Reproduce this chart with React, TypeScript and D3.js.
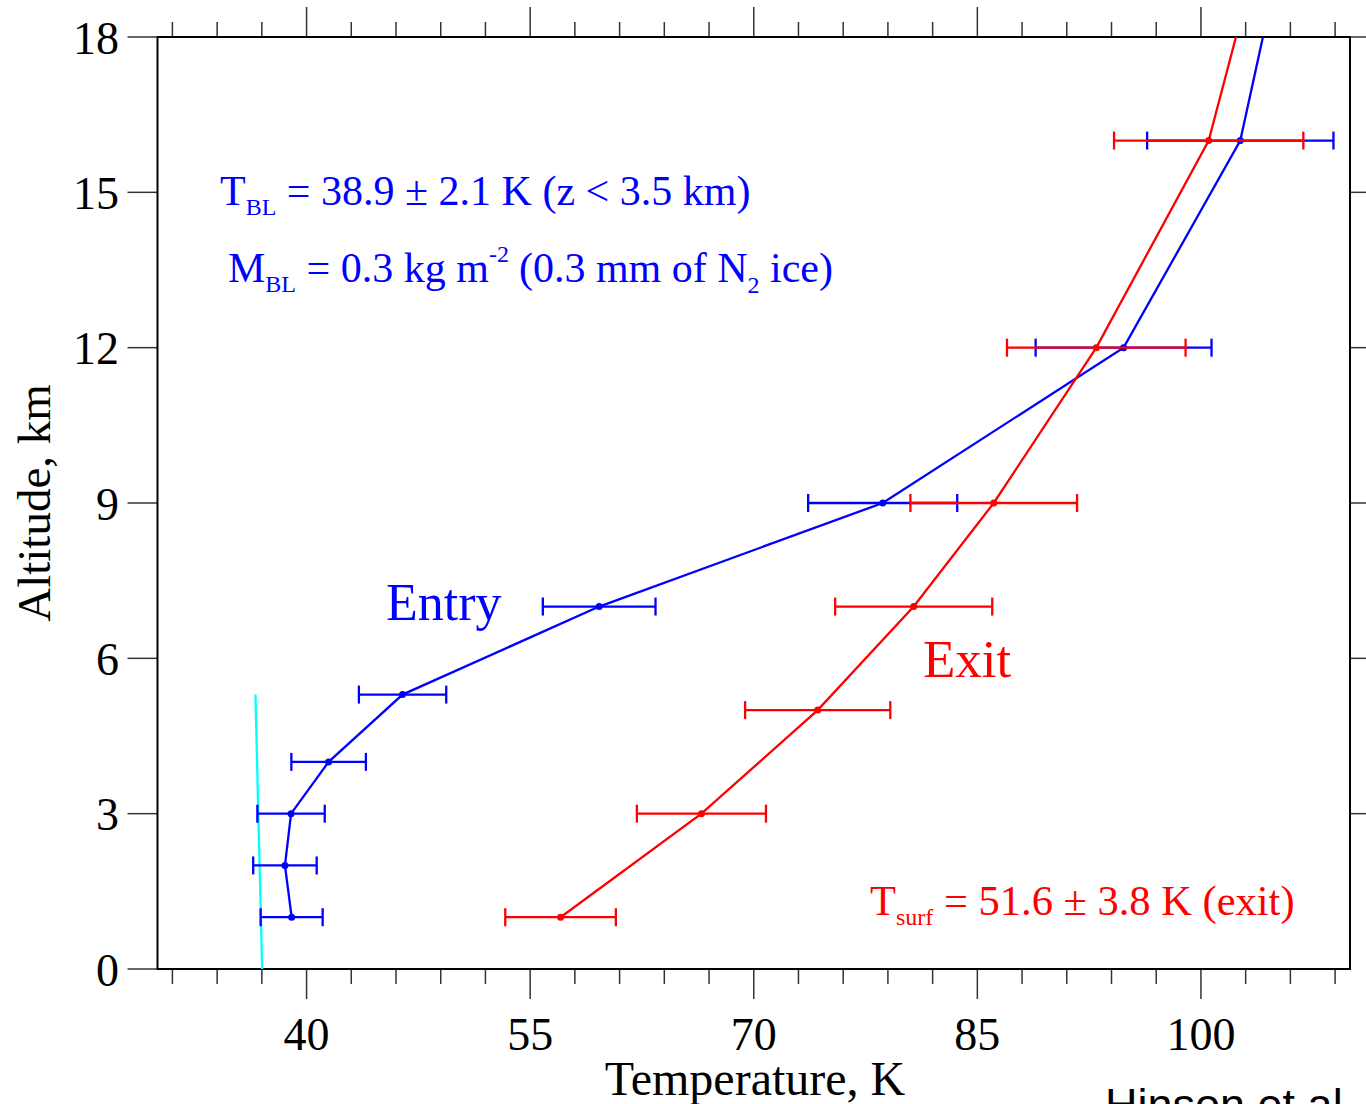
import React from 'react';
import * as d3 from 'd3';

// Entry profile: altitude (km), temperature (K), 1-sigma uncertainty (K)
const entryAlt = [1, 2, 3, 4, 5.3, 7, 9, 12, 16];
const entryTemp = [39.0, 38.55, 38.96, 41.48, 46.44, 59.63, 78.65, 94.81, 102.64];
const entryErr = [2.08, 2.13, 2.26, 2.5, 2.93, 3.78, 5.0, 5.9, 6.25];
// profile continues to the top of the panel
const entryTopAlt = 18;
const entryTopTemp = 104.16;

// Exit profile
const exitAlt = [1, 3, 5, 7, 9, 12, 16];
const exitTemp = [57.04, 66.49, 74.29, 80.73, 86.1, 92.98, 100.52];
const exitErr = [3.71, 4.33, 4.87, 5.27, 5.59, 5.99, 6.35];
const exitTopAlt = 18;
const exitTopTemp = 102.35;

// N2 saturation (frost-point) line near the surface
const saturationAlt = [0, 5.3];
const saturationTemp = [37.02, 36.57];

const tempLabels = [40, 55, 70, 85, 100];
const tempMinorTicks = d3.range(31, 110, 3);
const altLabels = [0, 3, 6, 9, 12, 15, 18];

const W = 1366;
const H = 1104;
const FONT = "'Liberation Serif', 'Times New Roman', serif";
const BLUE = '#0000ff';
const RED = '#ff0000';
const CYAN = '#00ffff';

const x = d3.scaleLinear().domain([30, 110]).range([157.5, 1350]);
const y = d3.scaleLinear().domain([0, 18]).range([969, 37]);

type Pt = { t: number; z: number };

function Profile({ alts, temps, errs, topAlt, topTemp, color }: {
  alts: number[]; temps: number[]; errs: number[]; topAlt: number; topTemp: number; color: string;
}) {
  const pts: Pt[] = alts.map((z, i) => ({ t: temps[i], z }));
  const linePts = [...pts, { t: topTemp, z: topAlt }];
  const line = d3.line<Pt>().x(d => x(d.t)).y(d => y(d.z));
  const cap = 9;
  return (
    <g>
      <path d={line(linePts) || ''} fill="none" stroke={color} strokeWidth={2.3} />
      {pts.map((p, i) => {
        const x0 = x(p.t - errs[i]);
        const x1 = x(p.t + errs[i]);
        const yy = y(p.z);
        return (
          <g key={i} stroke={color} strokeWidth={2.3}>
            <line x1={x0} x2={x1} y1={yy} y2={yy} />
            <line x1={x0} x2={x0} y1={yy - cap} y2={yy + cap} />
            <line x1={x1} x2={x1} y1={yy - cap} y2={yy + cap} />
          </g>
        );
      })}
      {pts.map((p, i) => (
        <circle key={'c' + i} cx={x(p.t)} cy={y(p.z)} r={3.5} fill={color} />
      ))}
    </g>
  );
}

export default function App() {
  const satLine = d3.line<number>().x((_, i) => x(saturationTemp[i])).y(d => y(d));
  const [xl, xr] = x.range();
  const [yb, yt] = y.range();
  const tickColor = '#333';

  return (
    <svg
      width={W}
      height={H}
      viewBox={`0 0 ${W} ${H}`}
      style={{ position: 'absolute', left: 0, top: 0, display: 'block', background: '#fff' }}
      fontFamily={FONT}
    >
      <rect x={0} y={0} width={W} height={H} fill="#fff" />

      {/* temperature ticks, top (outward) and bottom (outward) */}
      <g stroke={tickColor} strokeWidth={1.5}>
        {tempMinorTicks.map(t => {
          const major = tempLabels.includes(t);
          return (
            <g key={t}>
              <line x1={x(t)} x2={x(t)} y1={yt} y2={yt - (major ? 30 : 15)} />
              <line x1={x(t)} x2={x(t)} y1={yb} y2={yb + (major ? 30 : 15)} />
            </g>
          );
        })}
        {altLabels.map(a => (
          <g key={a}>
            <line x1={xl - 30} x2={xl} y1={y(a)} y2={y(a)} />
            {a > 0 && <line x1={xr} x2={xr + 30} y1={y(a)} y2={y(a)} />}
          </g>
        ))}
      </g>

      {/* plot frame */}
      <rect x={xl} y={yt} width={xr - xl} height={yb - yt} fill="none" stroke="#000" strokeWidth={2} />

      {/* tick labels */}
      <g fontSize={46} fill="#000">
        {tempLabels.map(t => (
          <text key={t} x={x(t)} y={1050} textAnchor="middle">{t}</text>
        ))}
        {altLabels.map(a => (
          <text key={a} x={119} y={y(a)} dy="0.36em" textAnchor="end">{a}</text>
        ))}
      </g>

      {/* axis titles */}
      <text x={755} y={1095} fontSize={48} textAnchor="middle" fill="#000">Temperature, K</text>
      <text transform={`translate(50,503) rotate(-90)`} fontSize={47} textAnchor="middle" fill="#000">
        Altitude, km
      </text>

      {/* saturation line */}
      <path d={satLine(saturationAlt) || ''} fill="none" stroke={CYAN} strokeWidth={2.3} />

      <Profile alts={entryAlt} temps={entryTemp} errs={entryErr} topAlt={entryTopAlt} topTemp={entryTopTemp} color={BLUE} />
      <Profile alts={exitAlt} temps={exitTemp} errs={exitErr} topAlt={exitTopAlt} topTemp={exitTopTemp} color={RED} />

      {/* annotations */}
      <text x={220} y={205} fontSize={42} fill={BLUE}>
        T<tspan fontSize={24} dy={10}>BL</tspan>
        <tspan dy={-10}> = 38.9 ± 2.1 K (z &lt; 3.5 km)</tspan>
      </text>
      <text x={228} y={282} fontSize={42} fill={BLUE}>
        M<tspan fontSize={24} dy={10}>BL</tspan>
        <tspan dy={-10}> = 0.3 kg m</tspan>
        <tspan fontSize={24} dy={-20}>-2</tspan>
        <tspan dy={20} dx={10}>(0.3 mm of N</tspan>
        <tspan fontSize={24} dy={11}>2</tspan>
        <tspan dy={-11}> ice)</tspan>
      </text>
      <text x={386} y={620} fontSize={52} fill={BLUE}>Entry</text>
      <text x={923} y={677} fontSize={53} fill={RED}>Exit</text>
      <text x={870} y={915} fontSize={42.5} fill={RED}>
        T<tspan fontSize={24} dy={10}>surf</tspan>
        <tspan dy={-10}> = 51.6 ± 3.8 K (exit)</tspan>
      </text>

      {/* credit line */}
      <text x={1105} y={1120} fontSize={45} fill="#000" fontFamily="'Liberation Sans', Arial, sans-serif">
        Hinson et al. (2017)
      </text>
    </svg>
  );
}
